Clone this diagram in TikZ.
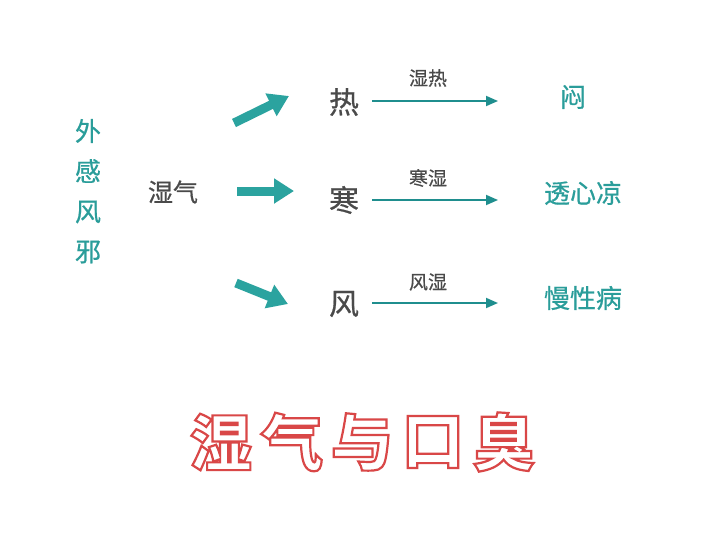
\documentclass[tikz,border=0pt]{standalone}
\usepackage{fontspec}
\setmainfont{Noto Sans CJK SC}
\newfontfamily\cjk[FakeBold=0.6]{Noto Sans CJK SC}
\newfontfamily\cjkt{Noto Sans CJK SC}
\usetikzlibrary{arrows.meta}
\definecolor{teal1}{HTML}{2A9D9A}
\definecolor{tealarrow}{HTML}{2BA39F}
\definecolor{thinarrow}{HTML}{1F8E8E}
\definecolor{graytxt}{HTML}{4A4A4A}
\newcommand{\outlinetext}[1]{\special{pdf:literal direct q 1 Tr 2.2 w 0.85 0.28 0.28 RG}#1\special{pdf:literal direct Q}}
\begin{document}
\begin{tikzpicture}[x=1pt,y=-1pt,
  tealtxt/.style={text=teal1,font=\cjk\fontsize{26}{30}\selectfont,inner sep=0pt},
  graybig/.style={text=graytxt,font=\cjk\fontsize{30}{34}\selectfont,inner sep=0pt},
  graymid/.style={text=graytxt,font=\cjk\fontsize{25}{30}\selectfont,inner sep=0pt},
  lbl/.style={text=graytxt,font=\cjk\fontsize{19}{22}\selectfont,inner sep=0pt},
  ttl/.style={inner sep=0pt,font=\cjkt\bfseries\fontsize{62}{70}\selectfont},
  thick arrow/.style={draw=tealarrow,line width=9pt,-{Triangle[width=24pt,length=20pt]}},
  thin arrow/.style={draw=thinarrow,line width=1.8pt,-{Triangle[width=10pt,length=12pt]}}
]
\useasboundingbox (0,0) rectangle (728,544);
\fill[white] (0,0) rectangle (728,544);

\node[tealtxt] (wai) at (88,131) {外};
\node[tealtxt] (gan) at (88,171) {感};
\node[tealtxt] (feng0) at (88,212) {风};
\node[tealtxt] (xie) at (88,252) {邪};

\node[graymid] (shiqi) at (173,192) {湿气};

\node[graybig] (re) at (344,102) {热};
\node[graybig] (han) at (344,200) {寒};
\node[graybig] (feng) at (344,304) {风};

\coordinate (a1s) at (234,123);
\coordinate (a1e) at (289,96);
\coordinate (a2s) at (237,191);
\coordinate (a2e) at (294,191);
\coordinate (a3s) at (236,283);
\coordinate (a3e) at (288,304);
\draw[thick arrow] (a1s) -- (a1e);
\draw[thick arrow] (a2s) -- (a2e);
\draw[thick arrow] (a3s) -- (a3e);

\node[tealtxt] (men) at (573,97) {闷};
\node[tealtxt] (tou) at (583,193) {透心凉};
\node[tealtxt] (man) at (583,298) {慢性病};

\coordinate (r1) at (372,101);
\coordinate (r2) at (372,200);
\coordinate (r3) at (372,303);
\coordinate (t1) at (498,101);
\coordinate (t2) at (498,200);
\coordinate (t3) at (498,303);
\draw[thin arrow] (r1) -- (t1);
\draw[thin arrow] (r2) -- (t2);
\draw[thin arrow] (r3) -- (t3);

\node[lbl] (l1) at (428,78) {湿热};
\node[lbl] (l2) at (428,178) {寒湿};
\node[lbl] (l3) at (428,282) {风湿};

\node[ttl] (c1) at (221,442) {\outlinetext{湿}};
\node[ttl] (c2) at (292,442) {\outlinetext{气}};
\node[ttl] (c3) at (362,442) {\outlinetext{与}};
\node[ttl] (c4) at (433,442) {\outlinetext{口}};
\node[ttl] (c5) at (504,442) {\outlinetext{臭}};
\end{tikzpicture}
\end{document}
